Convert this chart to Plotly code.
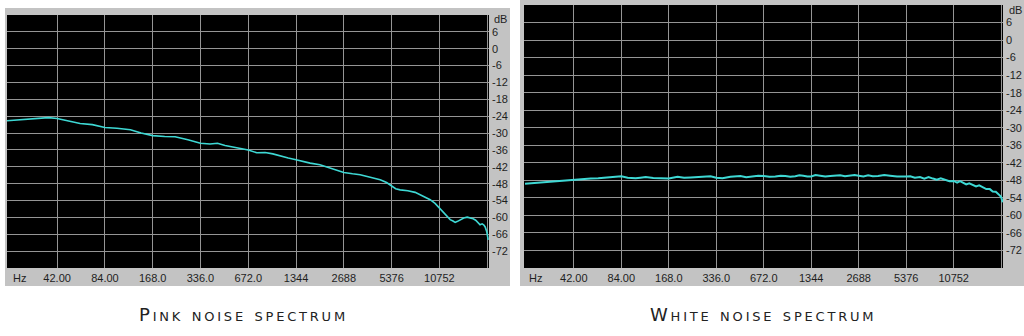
import math
import plotly.graph_objects as go

# ---------------- data ----------------
x_tick_vals = [42, 84, 168, 336, 672, 1344, 2688, 5376, 10752, 21504]
x_tick_text = ["42.00", "84.00", "168.0", "336.0", "672.0", "1344", "2688", "5376", "10752", ""]
y_tick_vals = [6, 0, -6, -12, -18, -24, -30, -36, -42, -48, -54, -60, -66, -72]
y_tick_text = ["6", "0", "-6", "-12", "-18", "-24", "-30", "-36", "-42", "-48", "-54", "-60", "-66", "-72"]

pink_freq = [20.3, 24.6, 28.5, 32.8, 37.0, 42, 49.5, 58.6, 70.0, 84, 100, 121.6, 142, 168, 200,
             232.6, 280, 336, 386, 430, 480, 540, 597, 672, 760, 858, 960, 1067, 1200, 1344,
             1490, 1649, 1900, 2205, 2450, 2688, 3050, 3407, 4000, 4553, 5000, 5376, 5700, 6086,
             6800, 7565, 8400, 9406, 10100, 10752, 11600, 12570, 13100, 13513, 14000, 14536,
             15300, 16088, 16800, 17550, 18200, 18875, 19400, 19990, 20500, 20890, 21400, 21825]
pink_db = [-25.6, -25.3, -25.0, -24.6, -24.5, -24.8, -25.6, -26.6, -27.0, -28.0, -28.3, -28.8, -30.0, -30.9, -31.2,
           -31.3, -32.4, -33.6, -33.9, -33.6, -34.4, -35.0, -35.6, -36.0, -37.0, -36.9, -37.4, -38.2, -38.9, -39.5,
           -40.2, -40.7, -41.3, -42.4, -43.3, -44.0, -44.5, -44.8, -45.8, -46.6, -47.6, -49.0, -49.8, -50.2,
           -50.5, -51.1, -52.3, -53.7, -55.0, -56.7, -58.6, -60.8, -61.3, -61.8, -61.4, -60.8,
           -60.2, -59.9, -60.1, -60.5, -61.0, -62.0, -62.6, -62.3, -62.7, -63.4, -65.2, -68.0]

white_freq = [20.6, 24.2, 30.0, 36.0, 42, 47.5, 53.8, 60.0, 66.9, 75.0, 84, 92.2, 103.6, 111, 119.9,
              134, 149, 168, 191, 210, 230.8, 266.9, 308.8, 336, 367.8, 413, 478, 520, 569, 620, 672,
              730, 796, 860, 920, 990, 1065, 1130, 1196, 1270, 1344, 1430, 1532, 1650, 1772, 1900,
              2050, 2200, 2371, 2530, 2688, 2880, 3082, 3300, 3566, 3900, 4246, 4700, 5376, 5700,
              6100, 6573, 7000, 7450, 7942, 8400, 8900, 9458, 10100, 10752, 11300, 11800, 12293,
              12900, 13500, 14217, 14900, 15600, 16444, 17300, 18212, 19000, 19876, 20300, 20770,
              21200, 21504, 21970]
white_db = [-49.2, -48.9, -48.3, -48.1, -47.8, -47.6, -47.4, -47.3, -47.1, -46.9, -46.6, -47.1, -47.3, -47.1, -46.9,
            -47.2, -47.3, -47.4, -46.8, -47.1, -47.0, -46.8, -46.6, -47.1, -47.3, -46.8, -46.5, -46.9, -46.7, -46.4, -46.5,
            -46.8, -46.7, -46.4, -46.5, -46.8, -46.6, -46.3, -46.4, -46.7, -46.7, -46.2, -46.4, -46.7, -46.5, -46.3,
            -46.3, -46.6, -46.5, -46.2, -46.4, -46.7, -46.3, -46.6, -46.5, -46.2, -46.4, -46.7, -46.7, -46.6,
            -47.1, -46.9, -47.4, -46.9, -47.4, -47.8, -47.3, -47.8, -48.3, -48.2, -48.8, -48.3, -48.8,
            -49.4, -49.0, -49.5, -50.1, -49.7, -50.3, -51.0, -51.0, -51.8, -51.9, -52.4, -52.6,
            -53.3, -53.8, -55.5]

# ---------------- figure ----------------
W, H = 1024, 336
LINE = "#3ed8d4"
GRID = "#959595"
FRAME = "#c3c3c3"
TICKFONT = dict(family="Liberation Sans Narrow, Arial Narrow, sans-serif", size=11, color="#1e1e1e")
TITLEFONT = dict(family="DejaVu Sans", size=18, color="#222222", variant="small-caps")

fig = go.Figure()
fig.add_trace(go.Scatter(x=pink_freq, y=pink_db, mode="lines", xaxis="x", yaxis="y",
                         line=dict(color=LINE, width=1.6), showlegend=False, hoverinfo="skip"))
fig.add_trace(go.Scatter(x=white_freq, y=white_db, mode="lines", xaxis="x2", yaxis="y2",
                         line=dict(color=LINE, width=2), showlegend=False, hoverinfo="skip"))

xr = [math.log10(20.3), math.log10(22080)]

def xaxis(domain, anchor):
    return dict(type="log", range=xr, domain=domain, anchor=anchor,
                tickmode="array", tickvals=x_tick_vals, ticktext=x_tick_text,
                showgrid=True, gridcolor=GRID, gridwidth=1, zeroline=False,
                showline=False, ticks="", tickfont=TICKFONT, ticklabelstandoff=2)

def yaxis(domain, anchor):
    return dict(range=[-78, 12], domain=domain, anchor=anchor, side="right",
                tickmode="array", tickvals=y_tick_vals, ticktext=y_tick_text,
                showgrid=True, gridcolor=GRID, gridwidth=1, zeroline=False,
                showline=False, ticks="", tickfont=TICKFONT, ticklabelstandoff=2)

xdl = [7 / W, 489 / W]
xdr = [524 / W, 1003 / W]
ydl = [(H - 268) / H, (H - 15) / H]
ydr = [(H - 268) / H, (H - 5) / H]

def rect(xd, yd, color):
    return dict(type="rect", xref="paper", yref="paper", x0=xd[0], x1=xd[1], y0=yd[0], y1=yd[1],
                fillcolor=color, line=dict(width=0), layer="below")

fig.update_layout(
    width=W, height=H, margin=dict(l=0, r=0, t=0, b=0),
    paper_bgcolor="white", plot_bgcolor="black",
    xaxis=xaxis(xdl, "y"),
    yaxis=yaxis(ydl, "x"),
    xaxis2=xaxis(xdr, "y2"),
    yaxis2=yaxis(ydr, "x2"),
    shapes=[
        rect([5 / W, 510 / W], [(H - 286) / H, (H - 8) / H], FRAME),
        rect([520 / W, 1.0], [(H - 286) / H, 1.0], FRAME),
        rect(xdl, ydl, "black"),
        rect(xdr, ydr, "black"),
    ],
    annotations=[
        dict(text="dB", xref="paper", yref="paper", x=492 / W, y=(H - 19) / H, showarrow=False,
             xanchor="left", yanchor="middle", font=TICKFONT),
        dict(text="dB", xref="paper", yref="paper", x=1007 / W, y=(H - 10) / H, showarrow=False,
             xanchor="left", yanchor="middle", font=TICKFONT),
        dict(text="Hz", xref="paper", yref="paper", x=11 / W, y=(H - 278) / H, showarrow=False,
             xanchor="left", yanchor="middle", font=TICKFONT),
        dict(text="Hz", xref="paper", yref="paper", x=527 / W, y=(H - 278) / H, showarrow=False,
             xanchor="left", yanchor="middle", font=TICKFONT),
        dict(text='<span style="letter-spacing:2.8px">Pink noise spectrum</span>',
             xref="paper", yref="paper", x=243 / W, y=(H - 314) / H,
             showarrow=False, xanchor="center", yanchor="middle", font=TITLEFONT),
        dict(text='<span style="letter-spacing:2.8px">White noise spectrum</span>',
             xref="paper", yref="paper", x=763 / W, y=(H - 314) / H,
             showarrow=False, xanchor="center", yanchor="middle", font=TITLEFONT),
    ],
)

fig.write_html("out.html")
